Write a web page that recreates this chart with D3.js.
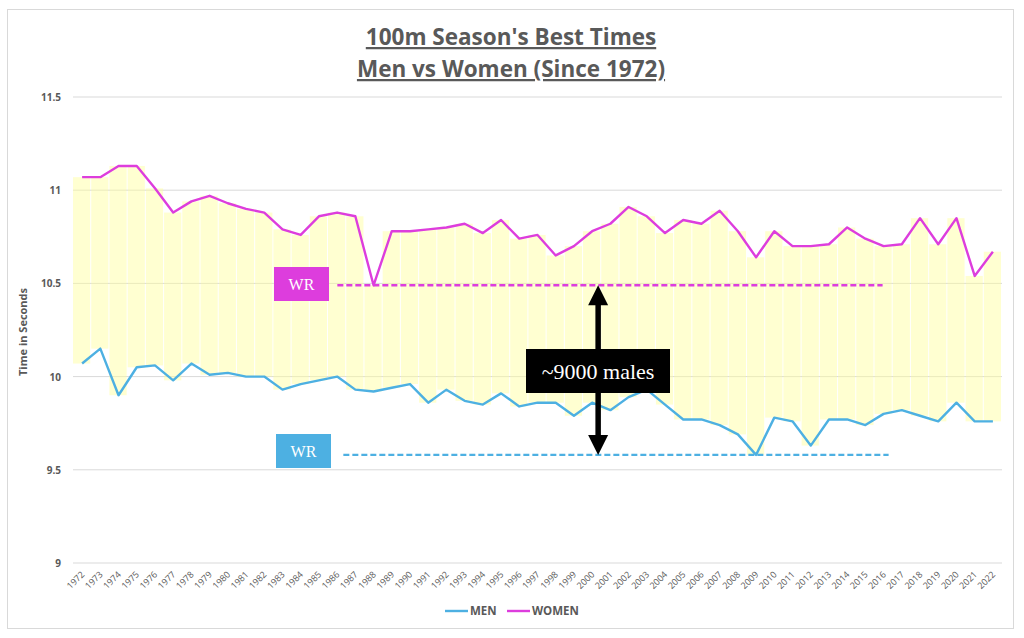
<!DOCTYPE html>
<html><head><meta charset="utf-8">
<script src="https://cdn.jsdelivr.net/npm/d3@7"></script>
<style>body{margin:0;background:#fff}</style>
</head><body>
<svg id="c" width="1024" height="638"></svg>
<script>
const years = d3.range(1972, 2023);
const men = [10.07,10.15,9.90,10.05,10.06,9.98,10.07,10.01,10.02,10.00,10.00,9.93,9.96,9.98,10.00,9.93,9.92,9.94,9.96,9.86,9.93,9.87,9.85,9.91,9.84,9.86,9.86,9.79,9.86,9.82,9.89,9.93,9.85,9.77,9.77,9.74,9.69,9.58,9.78,9.76,9.63,9.77,9.77,9.74,9.80,9.82,9.79,9.76,9.86,9.76,9.76];
const women = [11.07,11.07,11.13,11.13,11.01,10.88,10.94,10.97,10.93,10.90,10.88,10.79,10.76,10.86,10.88,10.86,10.49,10.78,10.78,10.79,10.80,10.82,10.77,10.84,10.74,10.76,10.65,10.70,10.78,10.82,10.91,10.86,10.77,10.84,10.82,10.89,10.78,10.64,10.78,10.70,10.70,10.71,10.80,10.74,10.70,10.71,10.85,10.71,10.85,10.54,10.67];
const yTicks = [9, 9.5, 10, 10.5, 11, 11.5];
const womenWR = 10.49, menWR = 9.58;
const womenWRRange = [1987, 2016];
const menWRRange = [1987, 2016];
const arrowYear = 2000;

const svg = d3.select("#c");
const gray = "#595959";
const L = 73, R = 1002, T = 97, B = 563;
const x = d3.scaleBand().domain(years).range([L, R]).padding(0);
const xc = d => x(d) + x.bandwidth()/2;
const y = d3.scaleLinear().domain([9, 11.5]).range([B, T]);

// border
svg.append("rect").attr("x",7.5).attr("y",9.5).attr("width",1006).attr("height",619)
  .attr("fill","none").attr("stroke","#d9d9d9");

// gridlines
svg.append("g").selectAll("line").data(yTicks).join("line")
  .attr("x1",L).attr("x2",R).attr("y1",d=>y(d)).attr("y2",d=>y(d))
  .attr("stroke","#d9d9d9").attr("stroke-width",1);

// yellow bands
svg.append("g").selectAll("rect").data(years).join("rect")
  .attr("x",d=>x(d)).attr("width",x.bandwidth()-1)
  .attr("y",(d,i)=>y(Math.max(men[i],women[i])))
  .attr("height",(d,i)=>Math.abs(y(men[i])-y(women[i])))
  .attr("fill","#ffff99").attr("opacity",0.45);

// y tick labels
svg.append("g").selectAll("text").data(yTicks).join("text")
  .attr("x",61).attr("y",d=>y(d)+4).attr("text-anchor","end")
  .attr("font-family","Open Sans, sans-serif").attr("font-size",10).attr("font-weight","bold")
  .attr("fill",gray).text(d=>d);

// y label
svg.append("text").attr("transform","translate(27,332) rotate(-90)")
  .attr("text-anchor","middle").attr("font-family","Open Sans, sans-serif")
  .attr("font-size",11).attr("font-weight","bold").attr("fill",gray).text("Time in Seconds");

// x tick labels
svg.append("g").selectAll("text").data(years).join("text")
  .attr("transform",d=>`translate(${xc(d)+3},575) rotate(-45)`)
  .attr("text-anchor","end").attr("font-family","Open Sans, sans-serif")
  .attr("font-size",9).attr("fill",gray).text(d=>d);

// lines
const line = arr => d3.line().x((d,i)=>xc(years[i])).y(d=>y(d))(arr);
svg.append("path").attr("d",line(men)).attr("fill","none").attr("stroke","#4db0e2").attr("stroke-width",2.4).attr("stroke-linejoin","round");
svg.append("path").attr("d",line(women)).attr("fill","none").attr("stroke","#dd3ddd").attr("stroke-width",2.4).attr("stroke-linejoin","round");

// WR dashed lines
svg.append("line").attr("x1",xc(womenWRRange[0])-18).attr("x2",xc(womenWRRange[1])-1)
  .attr("y1",y(womenWR)).attr("y2",y(womenWR)).attr("stroke","#dd3ddd").attr("stroke-width",2.4).attr("stroke-dasharray","6,3");
svg.append("line").attr("x1",xc(menWRRange[0])-12).attr("x2",xc(menWRRange[1])+5)
  .attr("y1",y(menWR)).attr("y2",y(menWR)).attr("stroke","#4db0e2").attr("stroke-width",2.4).attr("stroke-dasharray","6,3");

// WR boxes
function wrBox(cx, cy, col){
  svg.append("rect").attr("x",cx-27.5).attr("y",cy-17).attr("width",55).attr("height",34).attr("fill",col);
  svg.append("text").attr("x",cx).attr("y",cy+5.5).attr("text-anchor","middle")
    .attr("font-family","Liberation Serif, serif").attr("font-size",16).attr("fill","#fff").text("WR");
}
wrBox(301.5, 284, "#dd3ddd");
wrBox(303.5, 451, "#4db0e2");

// arrow
const ax = xc(arrowYear) + 6;
const yTop = y(womenWR), yBot = y(menWR);
svg.append("line").attr("x1",ax).attr("x2",ax).attr("y1",yTop+18).attr("y2",yBot-18).attr("stroke","#000").attr("stroke-width",5.5);
svg.append("path").attr("d",`M${ax},${yTop} L${ax-10},${yTop+20} L${ax+10},${yTop+20} Z`).attr("fill","#000");
svg.append("path").attr("d",`M${ax},${yBot} L${ax-10},${yBot-20} L${ax+10},${yBot-20} Z`).attr("fill","#000");
svg.append("rect").attr("x",526).attr("y",349).attr("width",144).attr("height",44).attr("fill","#000");
svg.append("text").attr("x",598).attr("y",379).attr("text-anchor","middle")
  .attr("font-family","Liberation Serif, serif").attr("font-size",22).attr("fill","#fff").text("~9000 males");

// title
const title = ["100m Season's Best Times","Men vs Women (Since 1972)"];
svg.append("g").selectAll("text").data(title).join("text")
  .attr("x",511).attr("y",(d,i)=>45+i*32).attr("text-anchor","middle")
  .attr("font-family","Open Sans, sans-serif").attr("font-size",22.5).attr("font-weight","bold")
  .attr("fill",gray).attr("text-decoration","underline").text(d=>d);

// legend
const leg = [{n:"MEN",c:"#4db0e2",x:445},{n:"WOMEN",c:"#dd3ddd",x:507}];
leg.forEach(l=>{
  svg.append("line").attr("x1",l.x).attr("x2",l.x+23).attr("y1",611).attr("y2",611).attr("stroke",l.c).attr("stroke-width",2.4);
  svg.append("text").attr("x",l.x+25).attr("y",615).attr("font-family","Open Sans, sans-serif")
    .attr("font-size",11.5).attr("font-weight","bold").attr("fill",gray).text(l.n);
});
</script>
</body></html>
